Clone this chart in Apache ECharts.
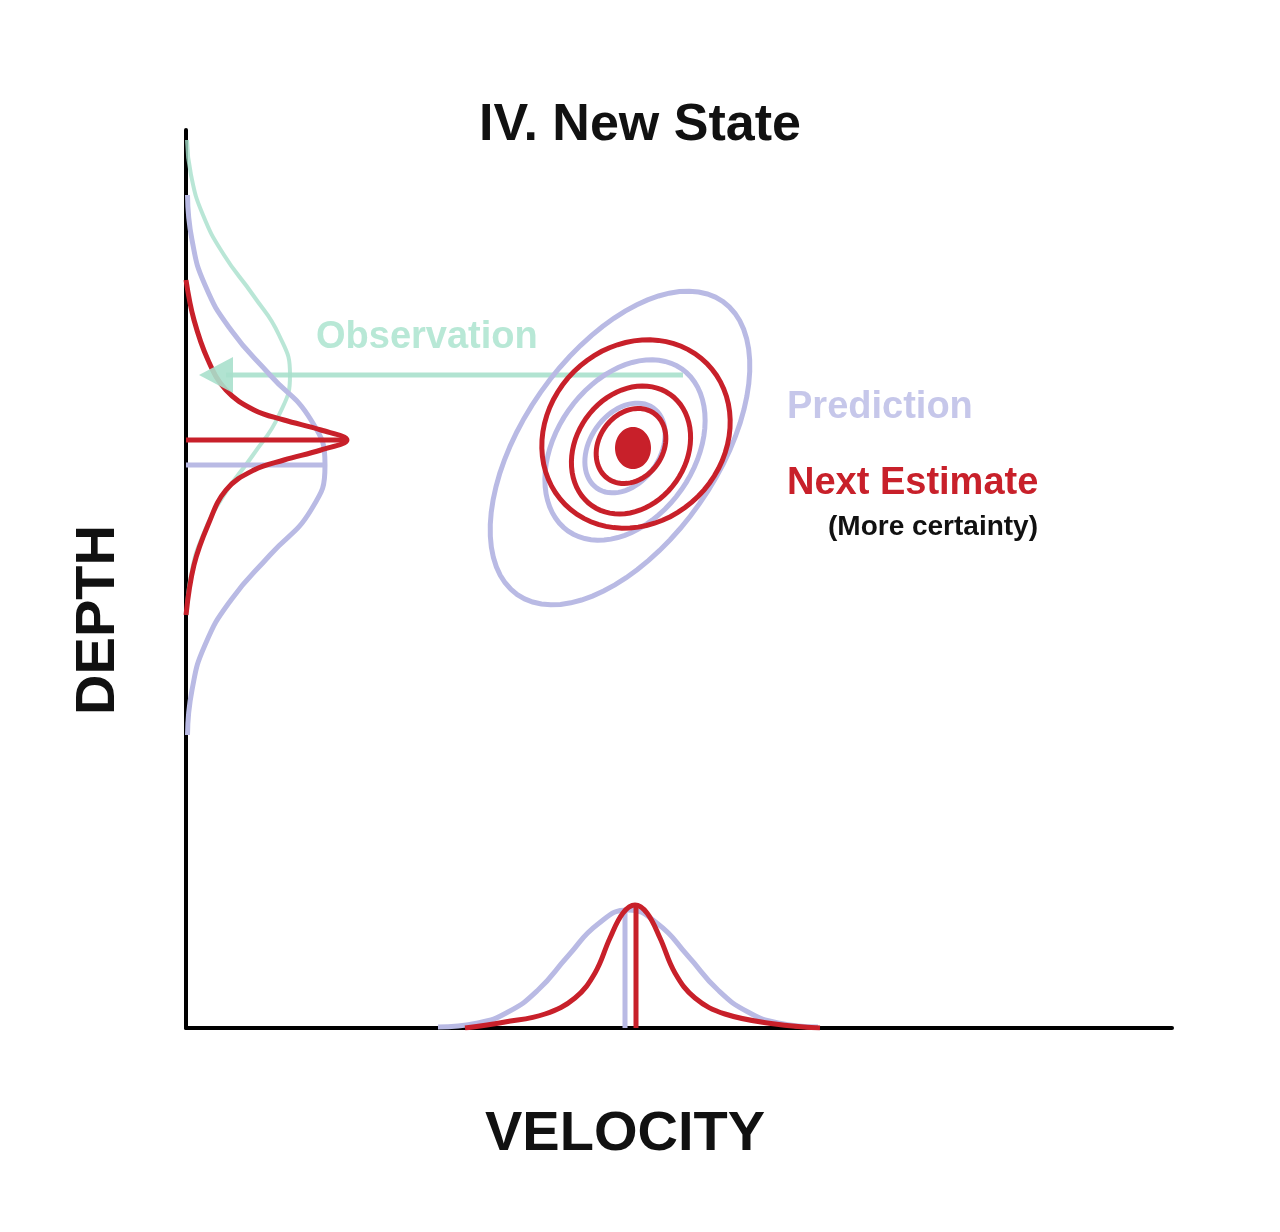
<!DOCTYPE html>
<html><head><meta charset="utf-8">
<script src="https://cdn.jsdelivr.net/npm/echarts@6/dist/echarts.min.js"></script>
<style>html,body{margin:0;background:#fff}#c{width:1280px;height:1232px}</style>
</head><body><div id="c"></div>
<script>
// Data coordinates: x = velocity, y = depth (chart units)
const obsDepthCurve = [[1,888],[5,853],[17,813],[38,773],[67,733],[93,693],[104,653],[93,613],[67,573],[38,533],[17,493],[5,453],[1,413]];
const predDepthCurve = [[1.5,833],[6,788],[19,743],[45,698],[84,653],[125,608],[139,563],[125,518],[84,473],[45,428],[19,383],[6,338],[1.5,293]];
const estDepthCurve = [[0,748],[8,708],[22,668],[40,638],[68,618],[98,608],[135,598],[161,588],[135,578],[98,568],[68,558],[40,538],[22,503],[8,463],[0,413]];
const predVelCurve = [[252,1],[292,5],[322,16],[352,38],[382,72],[412,104],[442,118],[472,104],[502,72],[532,38],[562,16],[592,5],[632,1]];
const estVelCurve = [[279,0],[319,6],[359,14],[389,30],[409,55],[424,90],[437,115],[449,123],[461,115],[474,90],[489,55],[509,30],[539,14],[589,4],[634,0]];
const predMeanDepth = [[0,563],[139,563]];
const estMeanDepth = [[0,588],[161,588]];
const predMeanVel = [[439,0],[439,118]];
const estMeanVel = [[450,0],[450,123]];
const obsArrow = [[497,653],[40,653]];
const obsArrowHead = [[30,653]];
// ellipses: [cx, cy, semiMajor, semiMinor, angleDeg, filled]
const predEllipses = [[434,580,179,97,55,0],[439,578,99,69,55,0],[439,580,49,35,55,0]];
const estEllipses = [[450,594,100,88,45,0],[445,578,68,55,55,0],[445,582,40,32,55,0],[447,580,17,20,0,1]];

const RED='#c8202a', LAV='#b9bae4', GRN='#a8e0cc';
function ellipseSeries(data,color){
  return {type:'custom',data:data,z:3,renderItem:function(p,api){
    const cx=api.value(0),cy=api.value(1),a=api.value(2),b=api.value(3),th=api.value(4)*Math.PI/180,f=api.value(5);
    const pts=[];
    for(let i=0;i<72;i++){const t=i/72*2*Math.PI;
      const x=cx+a*Math.cos(t)*Math.cos(th)-b*Math.sin(t)*Math.sin(th);
      const y=cy+a*Math.cos(t)*Math.sin(th)+b*Math.sin(t)*Math.cos(th);
      pts.push(api.coord([x,y]));}
    return {type:'polygon',shape:{points:pts},style:f?{fill:color,stroke:color,lineWidth:2}:{fill:'none',stroke:color,lineWidth:5}};
  }};
}
function line(data,color,w,smooth,op){return {type:'line',data:data,smooth:smooth,symbol:'none',lineStyle:{color:color,width:w,opacity:op||1},z:2};}
const chart=echarts.init(document.getElementById('c'));
chart.setOption({
  animation:false,
  grid:{left:186,top:130,width:986,height:898},
  xAxis:{type:'value',min:0,max:986,axisLine:{show:true,lineStyle:{color:'#000',width:4}},axisTick:{show:false},axisLabel:{show:false},splitLine:{show:false}},
  yAxis:{type:'value',min:0,max:898,axisLine:{show:true,lineStyle:{color:'#000',width:4}},axisTick:{show:false},axisLabel:{show:false},splitLine:{show:false}},
  series:[
    line(obsDepthCurve,GRN,4,0.5,0.8),
    line(obsArrow,GRN,5,false,0.9),
    {type:'scatter',data:obsArrowHead,symbol:'triangle',symbolRotate:90,symbolSize:[36,34],itemStyle:{color:GRN,opacity:0.9},z:2},
    ellipseSeries(predEllipses,LAV),
    line(predDepthCurve,LAV,5,0.5),
    line(predMeanDepth,LAV,5,false),
    line(predVelCurve,LAV,5,0.5),
    line(predMeanVel,LAV,5,false),
    ellipseSeries(estEllipses,RED),
    line(estDepthCurve,RED,5,0.4),
    line(estMeanDepth,RED,5,false),
    line(estVelCurve,RED,5,0.4),
    line(estMeanVel,RED,5,false)
  ],
  graphic:[
    {type:'text',left:'center',top:100,style:{text:'IV. New State',font:'bold 52px "Liberation Sans", Arial',fill:'#111'},x:25},
    {type:'text',x:127,y:620,rotation:Math.PI/2,style:{text:'DEPTH',font:'bold 56px "Liberation Sans", Arial',fill:'#111',align:'center',verticalAlign:'bottom'}},
    {type:'text',x:625,y:1135,style:{text:'VELOCITY',font:'bold 56px "Liberation Sans", Arial',fill:'#111',align:'center',verticalAlign:'middle'}},
    {type:'text',x:316,y:338,style:{text:'Observation',font:'bold 38px "Liberation Sans", Arial',fill:'#b8e8d6',verticalAlign:'middle'}},
    {type:'text',x:787,y:408,style:{text:'Prediction',font:'bold 38px "Liberation Sans", Arial',fill:'#c6c7ea',verticalAlign:'middle'}},
    {type:'text',x:787,y:484,style:{text:'Next Estimate',font:'bold 38px "Liberation Sans", Arial',fill:RED,verticalAlign:'middle'}},
    {type:'text',x:933,y:527,style:{text:'(More certainty)',font:'bold 28px "Liberation Sans", Arial',fill:'#111',align:'center',verticalAlign:'middle'}}
  ]
});
</script></body></html>
